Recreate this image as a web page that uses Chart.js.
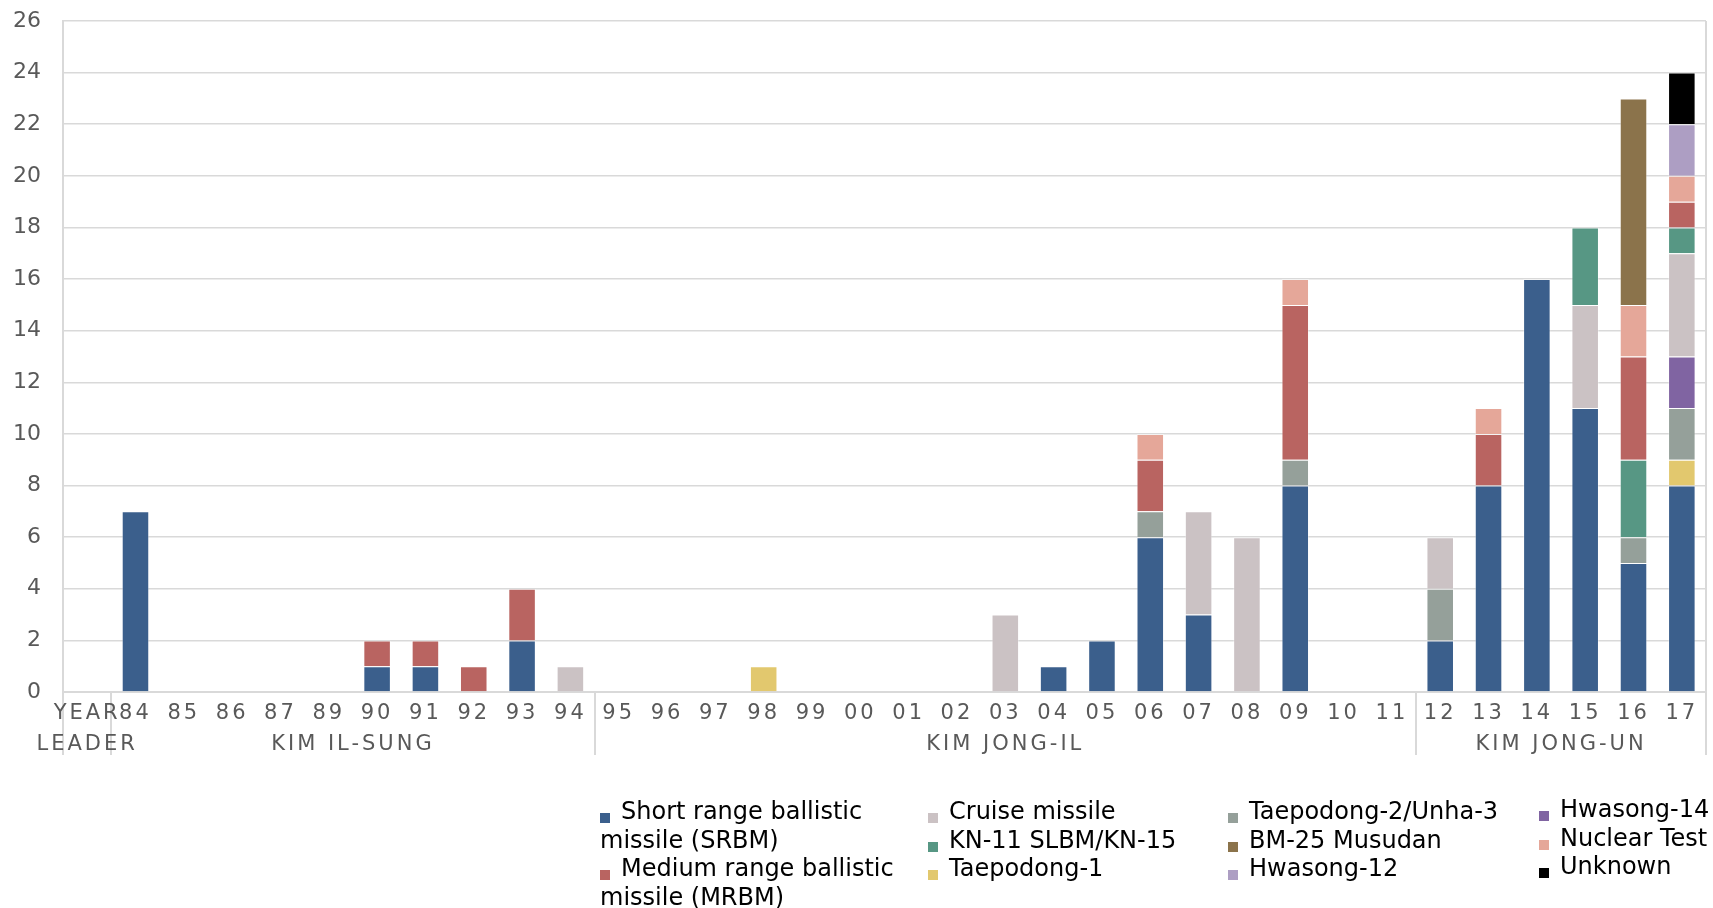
<!DOCTYPE html>
<html>
<head>
<meta charset="utf-8">
<script src="https://cdn.jsdelivr.net/npm/chart.js@4.4.1/dist/chart.umd.min.js"></script>
<style>
  html, body { margin: 0; padding: 0; background: #fff; }
  #wrap { position: relative; width: 1713px; height: 908px; }
  #legend { position: absolute; left: 0; top: 0; font-family: "DejaVu Sans", Verdana, sans-serif; font-size: 24px; line-height: 28.5px; color: #000; }
  .col { position: absolute; }
  .sw { display: inline-block; width: 10px; height: 10px; margin-right: 11px; vertical-align: -4px; }
</style>
</head>
<body>
<div id="wrap">
  <canvas id="graphMissile" width="1713" height="908"></canvas>
  <div id="legend"></div>
</div>
<script>
// tahun (sumbu x)
const years = ['84','85','86','87','89','90','91','92','93','94',
  '95','96','97','98','99','00','01','02','03','04','05','06','07','08','09','10','11',
  '12','13','14','15','16','17'];
const leaders = ['KIM IL-SUNG', 'KIM JONG-IL', 'KIM JONG-UN'];
const leaderSpans = [10, 17, 6];
const yTicks = { min: 0, max: 26, step: 2 };

// jumlah per jenis, urutan tahun seperti di atas
const srbm     = [7,0,0,0,0,1,1,0,2,0, 0,0,0,0,0,0,0,0,0,1,2,6,3,0,8,0,0, 2,8,16,11,5,8];
const td1      = [0,0,0,0,0,0,0,0,0,0, 0,0,0,1,0,0,0,0,0,0,0,0,0,0,0,0,0, 0,0,0,0,0,1];
const td2      = [0,0,0,0,0,0,0,0,0,0, 0,0,0,0,0,0,0,0,0,0,0,1,0,0,1,0,0, 2,0,0,0,1,2];
const hs14     = [0,0,0,0,0,0,0,0,0,0, 0,0,0,0,0,0,0,0,0,0,0,0,0,0,0,0,0, 0,0,0,0,0,2];
const cruise   = [0,0,0,0,0,0,0,0,0,1, 0,0,0,0,0,0,0,0,3,0,0,0,4,6,0,0,0, 2,0,0,4,0,4];
const kn11     = [0,0,0,0,0,0,0,0,0,0, 0,0,0,0,0,0,0,0,0,0,0,0,0,0,0,0,0, 0,0,0,3,3,1];
const mrbm     = [0,0,0,0,0,1,1,1,2,0, 0,0,0,0,0,0,0,0,0,0,0,2,0,0,6,0,0, 0,2,0,0,4,1];
const nuclear  = [0,0,0,0,0,0,0,0,0,0, 0,0,0,0,0,0,0,0,0,0,0,1,0,0,1,0,0, 0,1,0,0,2,1];
const bm25     = [0,0,0,0,0,0,0,0,0,0, 0,0,0,0,0,0,0,0,0,0,0,0,0,0,0,0,0, 0,0,0,0,8,0];
const hs12     = [0,0,0,0,0,0,0,0,0,0, 0,0,0,0,0,0,0,0,0,0,0,0,0,0,0,0,0, 0,0,0,0,0,2];
const unknown  = [0,0,0,0,0,0,0,0,0,0, 0,0,0,0,0,0,0,0,0,0,0,0,0,0,0,0,0, 0,0,0,0,0,2];

// urutan tumpukan (bawah ke atas)
const series = [
  { label: 'Short range ballistic missile (SRBM)', data: srbm, color: '#3b5f8c' },
  { label: 'Taepodong-1', data: td1, color: '#e2c86e' },
  { label: 'Taepodong-2/Unha-3', data: td2, color: '#95a09a' },
  { label: 'Hwasong-14', data: hs14, color: '#8064a2' },
  { label: 'Cruise missile', data: cruise, color: '#cbc2c4' },
  { label: 'KN-11 SLBM/KN-15', data: kn11, color: '#579784' },
  { label: 'Medium range ballistic missile (MRBM)', data: mrbm, color: '#b96461' },
  { label: 'Nuclear Test', data: nuclear, color: '#e5a799' },
  { label: 'BM-25 Musudan', data: bm25, color: '#8b734b' },
  { label: 'Hwasong-12', data: hs12, color: '#ad9ec3' },
  { label: 'Unknown', data: unknown, color: '#000000' }
];

// urutan legenda per kolom
const legendCols = [
  ['Short range ballistic missile (SRBM)', 'Medium range ballistic missile (MRBM)'],
  ['Cruise missile', 'KN-11 SLBM/KN-15', 'Taepodong-1'],
  ['Taepodong-2/Unha-3', 'BM-25 Musudan', 'Hwasong-12'],
  ['Hwasong-14', 'Nuclear Test', 'Unknown']
];

const labels = ['YEAR'].concat(years);
const gridColor = '#d9d9d9';
const textGray = '#595959';

// garis pemisah dan label tahun / pemimpin di bawah sumbu
const leaderRow = {
  id: 'leaderRow',
  afterDraw(chart) {
    const ctx = chart.ctx;
    const x = chart.scales.x;
    const area = chart.chartArea;
    const w = x.getPixelForValue(1) - x.getPixelForValue(0);
    const edge = i => x.getPixelForValue(0) - w / 2 + i * w;
    const low = area.bottom + 63;

    ctx.save();
    ctx.strokeStyle = gridColor;
    ctx.lineWidth = 2;
    let cuts = [0, 1];
    let acc = 1;
    leaderSpans.forEach(n => { acc += n; cuts.push(acc); });
    cuts.forEach(i => {
      const px = Math.round(edge(i));
      ctx.beginPath();
      ctx.moveTo(px, i === labels.length ? area.top : area.bottom);
      ctx.lineTo(px, low);
      ctx.stroke();
    });

    ctx.fillStyle = textGray;
    ctx.font = '21px "DejaVu Sans", Verdana, sans-serif';
    ctx.letterSpacing = '3px';
    ctx.textAlign = 'center';
    ctx.textBaseline = 'alphabetic';
    labels.forEach((l, i) => ctx.fillText(l, x.getPixelForValue(i), area.bottom + 27));

    ctx.fillText('LEADER', x.getPixelForValue(0), area.bottom + 58);
    let start = 1;
    leaders.forEach((name, k) => {
      const mid = (edge(start) + edge(start + leaderSpans[k])) / 2;
      ctx.fillText(name, mid, area.bottom + 58);
      start += leaderSpans[k];
    });
    ctx.restore();
  }
};

const ctx = document.getElementById('graphMissile');
const chart = new Chart(ctx, {
  type: 'bar',
  data: {
    labels: labels,
    datasets: series.map(s => ({
      label: s.label,
      data: [null].concat(s.data.map(v => v === 0 ? null : v)),
      backgroundColor: s.color,
      borderColor: 'rgba(255,255,255,0.35)',
      borderWidth: 1,
      categoryPercentage: 1,
      barPercentage: 0.57
    }))
  },
  options: {
    responsive: false,
    animation: false,
    layout: { padding: { top: 21, right: 7, left: 0, bottom: 0 } },
    plugins: {
      legend: { display: false },
      tooltip: { enabled: false }
    },
    scales: {
      x: {
        stacked: true,
        grid: { display: false },
        border: { display: true, color: gridColor, width: 2 },
        ticks: { display: false },
        afterFit: s => { s.height = 216; s.paddingLeft = 0; s.paddingRight = 0; }
      },
      y: {
        stacked: true,
        min: yTicks.min,
        max: yTicks.max,
        ticks: {
          stepSize: yTicks.step,
          color: textGray,
          padding: 22,
          font: { family: '"DejaVu Sans", Verdana, sans-serif', size: 22 }
        },
        grid: { color: gridColor, lineWidth: 1.5, drawTicks: false },
        border: { display: true, color: gridColor, width: 2 },
        afterFit: s => { s.width = 63; s.paddingTop = 0; s.paddingBottom = 0; }
      }
    }
  },
  plugins: [leaderRow]
});

// legenda HTML
const colLeft = [600, 928, 1228, 1539];
const colTop = [797, 797, 797, 795];
const colWidth = [330, 300, 300, 175];
const legend = document.getElementById('legend');
legendCols.forEach((names, c) => {
  const col = document.createElement('div');
  col.className = 'col';
  col.style.left = colLeft[c] + 'px';
  col.style.top = colTop[c] + 'px';
  col.style.width = colWidth[c] + 'px';
  if (c > 0) col.style.whiteSpace = 'nowrap';
  names.forEach(n => {
    const s = series.find(d => d.label === n);
    const item = document.createElement('div');
    item.innerHTML = '<span class="sw" style="background:' + s.color + '"></span>' + n;
    col.appendChild(item);
  });
  legend.appendChild(col);
});
</script>
</body>
</html>
